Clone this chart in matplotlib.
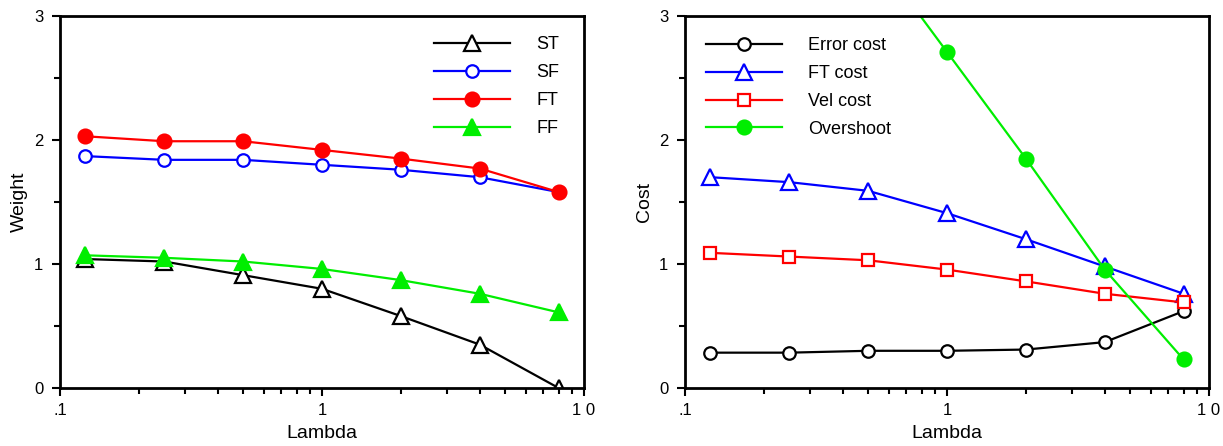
import numpy as np
import matplotlib
matplotlib.use("Agg")
import matplotlib.pyplot as plt
from matplotlib.ticker import FixedLocator, MultipleLocator, NullFormatter

plt.rcParams['font.family'] = ['Liberation Sans', 'DejaVu Sans']

lam = [0.125, 0.25, 0.5, 1, 2, 4, 8]

# left panel: weights
st = [1.04, 1.02, 0.91, 0.80, 0.58, 0.35, 0.00]
sf = [1.87, 1.84, 1.84, 1.80, 1.76, 1.70, 1.58]
ft = [2.03, 1.99, 1.99, 1.92, 1.85, 1.77, 1.58]
ff = [1.07, 1.05, 1.02, 0.96, 0.87, 0.76, 0.61]

# right panel: costs
err_cost = [0.285, 0.285, 0.30, 0.30, 0.31, 0.37, 0.62]
ft_cost = [1.70, 1.66, 1.59, 1.41, 1.20, 0.98, 0.76]
vel_cost = [1.09, 1.06, 1.03, 0.955, 0.86, 0.76, 0.69]
overshoot = [np.nan, np.nan, 3.57, 2.71, 1.85, 0.955, 0.23]

xticks = [0.1, 1, 10]
xticklabels = ['.1', '1', '1 0']

GREEN = '#00ee00'

fig = plt.figure(figsize=(12.23, 4.46), dpi=100)
axL = fig.add_axes([60 / 1223, 1 - 388 / 446, 524 / 1223, 372 / 446])
axR = fig.add_axes([685 / 1223, 1 - 388 / 446, 524 / 1223, 372 / 446])

lw = 1.6
kw = dict(lw=lw, mew=1.6)

axL.plot(lam, st, '-^', color='black', mfc='white', ms=11, label='ST', **kw)
axL.plot(lam, sf, '-o', color='blue', mfc='white', ms=9, label='SF', **kw)
axL.plot(lam, ft, '-o', color='red', ms=10, label='FT', **kw)
axL.plot(lam, ff, '-^', color=GREEN, ms=12, label='FF', **kw)

axR.plot(lam, err_cost, '-o', color='black', mfc='white', ms=9, label='Error cost', **kw)
axR.plot(lam, ft_cost, '-^', color='blue', mfc='white', ms=12, label='FT cost', **kw)
axR.plot(lam, vel_cost, '-s', color='red', mfc='white', ms=9, label='Vel cost', **kw)
axR.plot(lam, overshoot, '-o', color=GREEN, ms=10, label='Overshoot', **kw)

for ax, ylab in [(axL, 'Weight'), (axR, 'Cost')]:
    ax.set_xscale('log')
    ax.set_xlim(0.1, 10)
    ax.set_ylim(0, 3)
    ax.xaxis.set_major_locator(FixedLocator(xticks))
    ax.set_xticklabels(xticklabels)
    ax.xaxis.set_minor_locator(FixedLocator([0.2, 0.3, 0.4, 0.5, 0.6, 0.7, 0.8, 0.9,
                                             2, 3, 4, 5, 6, 7, 8, 9]))
    ax.xaxis.set_minor_formatter(NullFormatter())
    ax.yaxis.set_major_locator(MultipleLocator(1))
    ax.yaxis.set_minor_locator(MultipleLocator(0.5))
    ax.tick_params(which='major', direction='out', length=6, width=1.5, labelsize=12)
    ax.tick_params(axis='x', which='major', pad=5)
    ax.tick_params(axis='y', which='major', pad=6)
    ax.tick_params(which='minor', direction='out', length=4, width=1.5)
    for s in ax.spines.values():
        s.set_linewidth(2)
    ax.set_xlabel('Lambda', fontsize=14, labelpad=5)
    ax.set_ylabel(ylab, fontsize=14, labelpad=4)

axL.legend(loc='upper left', bbox_to_anchor=(0.714, 0.945), frameon=False,
           fontsize=13, handlelength=4.2, handletextpad=1.45, labelspacing=0.6,
           borderaxespad=0, borderpad=0)
axR.legend(loc='upper left', bbox_to_anchor=(0.04, 0.943), frameon=False,
           fontsize=13, handlelength=4.2, handletextpad=1.45, labelspacing=0.6,
           borderaxespad=0, borderpad=0)

fig.savefig('out.png', dpi=100)
